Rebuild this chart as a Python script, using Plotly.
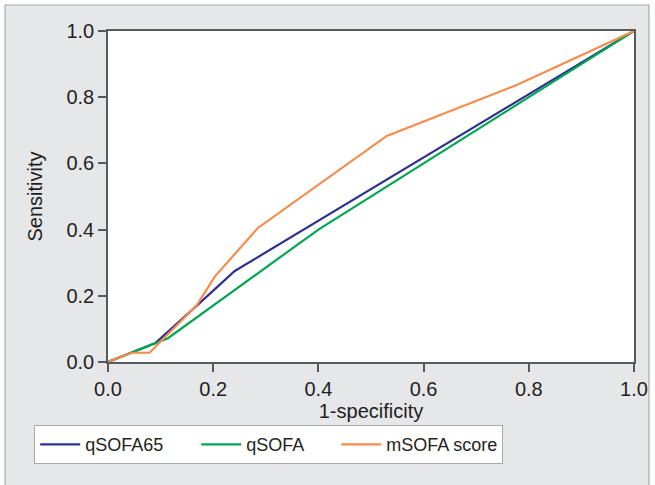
import plotly.graph_objects as go

series_names = ["qSOFA65", "qSOFA", "mSOFA score"]
colors = ["#2e3192", "#00a651", "#f68b4c"]

qsofa65_x = [0.0, 0.09, 0.17, 0.241, 1.0]
qsofa65_y = [0.0, 0.057, 0.172, 0.275, 1.0]

qsofa_x = [0.0, 0.114, 0.40, 1.0]
qsofa_y = [0.0, 0.072, 0.40, 1.0]

msofa_x = [0.0, 0.045, 0.079, 0.169, 0.203, 0.285, 0.530, 0.777, 1.0]
msofa_y = [0.0, 0.028, 0.028, 0.172, 0.258, 0.405, 0.683, 0.837, 1.0]

tick_vals = [0.0, 0.2, 0.4, 0.6, 0.8, 1.0]
tick_text = ["0.0", "0.2", "0.4", "0.6", "0.8", "1.0"]

FONT = "Liberation Sans, Arial, sans-serif"
AXIS = "#58595b"
TXT = "#231f20"

legend_widths = [106, 85, 110]

fig = go.Figure()
for name, xs, ys, c, lw in zip(series_names,
                               [qsofa65_x, qsofa_x, msofa_x],
                               [qsofa65_y, qsofa_y, msofa_y], colors, legend_widths):
    fig.add_trace(go.Scatter(x=xs, y=ys, mode="lines", name=name,
                             line=dict(color=c, width=2.2), cliponaxis=False,
                             legendwidth=lw))

W, H = 655, 485
L, R, T, B = 108, 21, 31, 123
pw, ph = W - L - R, H - T - B

def px(xp):
    return (xp - L) / pw

def py(yp):
    return (H - B - yp) / ph

fig.add_shape(type="rect", xref="paper", yref="paper",
              x0=px(5), x1=px(649), y0=py(490), y1=py(5),
              fillcolor="#e6e7e9", line=dict(color="#a7a9ac", width=1.2), layer="below")
fig.add_shape(type="rect", xref="paper", yref="paper",
              x0=0, x1=1, y0=0, y1=1,
              fillcolor="white", line=dict(width=0), layer="below")

axis_common = dict(range=[0, 1], tickvals=tick_vals, ticktext=tick_text,
                   showgrid=False, zeroline=False, showline=True, mirror=True,
                   linecolor=AXIS, linewidth=1.5, ticks="outside", ticklen=8,
                   tickcolor=AXIS, tickwidth=1.5, automargin=False,
                   tickfont=dict(family=FONT, size=20, color=TXT))

fig.update_layout(
    width=W, height=H,
    margin=dict(l=L, r=R, t=T, b=B, autoexpand=False),
    paper_bgcolor="white", plot_bgcolor="rgba(0,0,0,0)",
    xaxis=dict(**axis_common, title=dict(text="1-specificity", standoff=2,
               font=dict(family=FONT, size=20, color=TXT))),
    yaxis=dict(**axis_common, title=dict(text="Sensitivity", standoff=18,
               font=dict(family=FONT, size=20, color=TXT))),
    showlegend=True,
    legend=dict(orientation="h", x=px(34), y=py(425), xanchor="left", yanchor="top",
                bgcolor="white", bordercolor="#a7a9ac", borderwidth=1.2,
                font=dict(family=FONT, size=18, color=TXT),
                itemwidth=40, tracegroupgap=0),
)

fig.write_html("out.html", config={"displayModeBar": False},
               post_script="document.body.style.margin='0';document.body.style.overflow='hidden';")
